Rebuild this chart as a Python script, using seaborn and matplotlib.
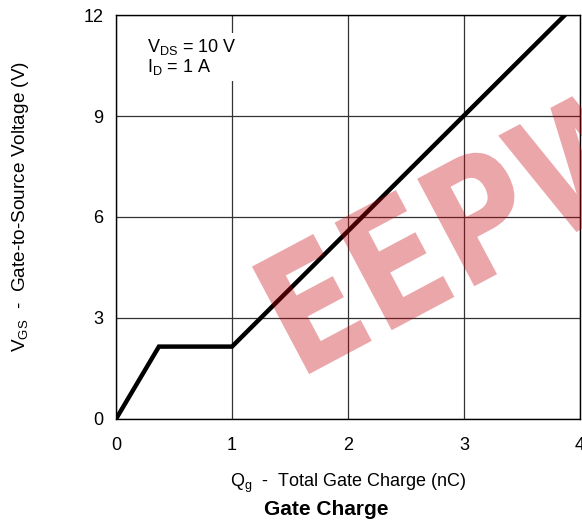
import numpy as np
import pandas as pd
import matplotlib
matplotlib.use('Agg')
import matplotlib.pyplot as plt
import seaborn as sns
from matplotlib.textpath import TextPath
from matplotlib.patches import PathPatch
from matplotlib.font_manager import FontProperties
from matplotlib.transforms import Affine2D, IdentityTransform

# Gate charge curve
qg = [0.0, 0.37, 1.0, 3.87]
vgs = [0.0, 2.15, 2.15, 12.0]
x_ticks = [0, 1, 2, 3, 4]
y_ticks = [0, 3, 6, 9, 12]

sns.set_style('white')
plt.rcParams['font.family'] = ['Liberation Sans', 'DejaVu Sans']
plt.rcParams['mathtext.fontset'] = 'custom'
plt.rcParams['mathtext.rm'] = 'Liberation Sans'
plt.rcParams['mathtext.it'] = 'Liberation Sans'
plt.rcParams['mathtext.default'] = 'regular'
plt.rcParams['text.color'] = 'black'
plt.rcParams['axes.labelcolor'] = 'black'
plt.rcParams['xtick.color'] = 'black'
plt.rcParams['ytick.color'] = 'black'

df = pd.DataFrame({'qg': qg, 'vgs': vgs})

fig = plt.figure(figsize=(5.82, 5.23), dpi=100)
ax = fig.add_axes([0.1993, 0.1989, 0.7973, 0.7724])

sns.lineplot(data=df, x='qg', y='vgs', ax=ax, color='black', linewidth=3.2,
             solid_joinstyle='miter', zorder=3)

ax.set_xlim(0, 4)
ax.set_ylim(0, 12)
ax.set_xticks(x_ticks)
ax.set_yticks(y_ticks)
ax.grid(True, color='#333333', linewidth=0.9)
ax.tick_params(axis='x', length=0, pad=13, labelsize=13)
ax.tick_params(axis='y', length=0, pad=9, labelsize=13)
for s in ax.spines.values():
    s.set_color('black')
    s.set_linewidth(1.0)

ax.set_xlabel('$Q_g$  -  Total Gate Charge (nC)', fontsize=13, labelpad=13)
ax.set_ylabel('$V_{GS}$  -  Gate-to-Source Voltage (V)', fontsize=13.7)
ax.yaxis.set_label_coords(-0.184, 0.525)

ax.text(0.27, 10.75, '$V_{DS}$ = 10 V\n$I_D$ = 1 A', fontsize=13, va='center',
        ha='left', linespacing=1.0, zorder=4,
        bbox=dict(facecolor='white', edgecolor='none', pad=3))

fig.text(0.561, 0.0153, 'Gate Charge', fontsize=15, fontweight='bold', ha='center',
         va='baseline')

# watermark, drawn as a narrowed text outline in pixel units
wm = TextPath((0, 0), 'EEPW', size=167, prop=FontProperties(family='DejaVu Sans', weight='bold'))
wm_tr = Affine2D().scale(0.82, 1.0).rotate_deg(28).translate(298, 143) + IdentityTransform()
patch = PathPatch(wm, facecolor='#c8000c', edgecolor='none', alpha=0.35,
                  transform=wm_tr, zorder=5, clip_on=False)
fig.add_artist(patch)

fig.savefig('out.png', dpi=100)
